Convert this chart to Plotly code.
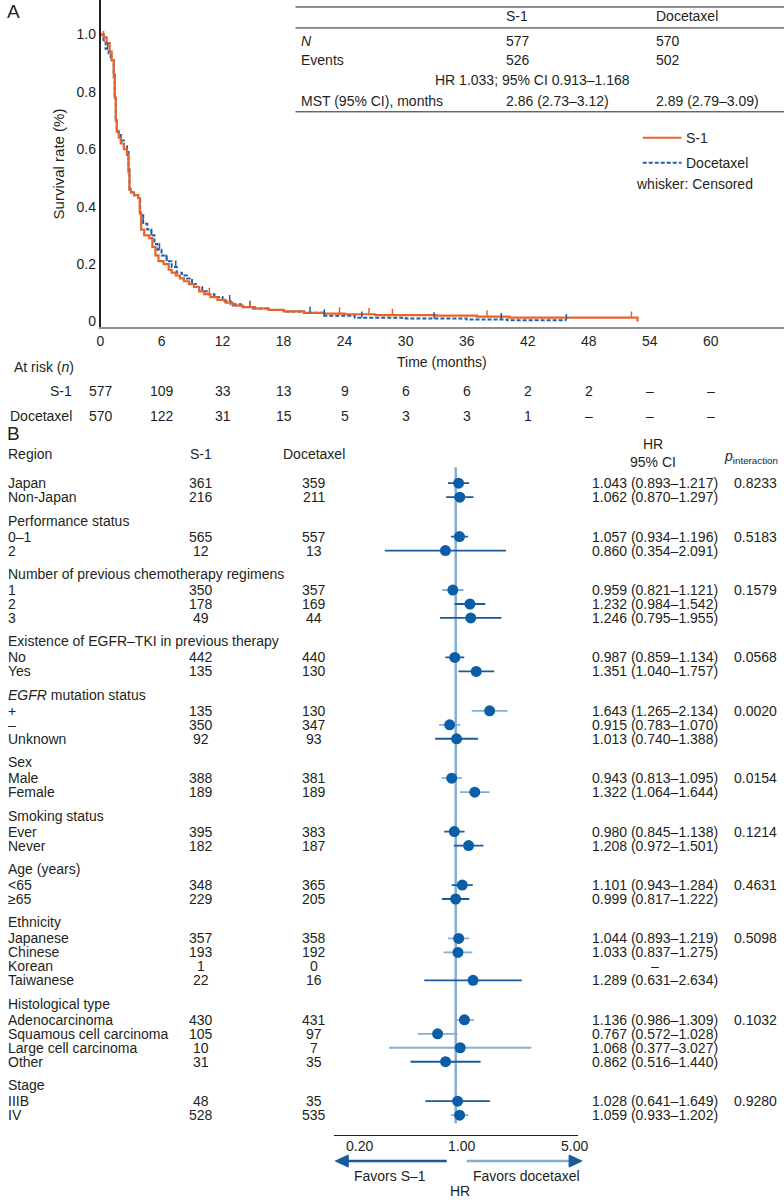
import numpy as np
import plotly.graph_objects as go

W, H = 784, 1201
FONT = "Liberation Sans, Arial, sans-serif"
INK = "#231f20"
ORANGE = "#e8632b"
BLUE = "#1f5fa8"
DOT = "#0a5ea8"
DARK = "#1a5a9a"
LIGHT = "#86aed0"


def X(px):
    return px / W


def Y(py):
    return 1 - py / H


# ---- panel A: Kaplan-Meier data ----
s1_t = [0, 0.3, 0.6, 0.9, 1.1, 1.3, 1.4, 1.5, 1.6, 1.8, 2.0, 2.3, 2.6, 2.75, 2.85,
        3.0, 3.3, 3.7, 3.85, 4.0, 4.3, 4.8, 5.1, 5.4, 5.7, 6.2, 6.7, 7.0, 7.4, 7.8,
        8.2, 8.7, 9.2, 9.7, 10.2, 10.8, 11.5, 12.3, 13.0, 14.0, 15.2, 16.5, 18.0,
        20.0, 22.0, 24.0, 27.0, 33.0, 37.0, 40.2, 52.8]
s1_s = [1.0, 0.99, 0.97, 0.94, 0.91, 0.85, 0.78, 0.70, 0.66, 0.64, 0.62, 0.60, 0.58,
        0.52, 0.46, 0.45, 0.44, 0.43, 0.38, 0.32, 0.30, 0.29, 0.26, 0.23, 0.21, 0.20,
        0.18, 0.17, 0.16, 0.15, 0.14, 0.13, 0.12, 0.105, 0.095, 0.085, 0.075, 0.065,
        0.055, 0.05, 0.045, 0.04, 0.035, 0.03, 0.027, 0.025, 0.022, 0.02, 0.017,
        0.013, 0.0]
s1_cens = [0.3, 10.7, 14.7, 23.5, 26.4, 28.7, 38.0, 52.2]

doc_t = [0, 0.3, 0.5, 0.8, 1.0, 1.3, 1.4, 1.5, 1.6, 1.8, 2.0, 2.3, 2.6, 2.75, 2.85,
         3.0, 3.3, 3.7, 3.9, 4.2, 4.6, 5.0, 5.3, 5.6, 6.0, 6.5, 7.0, 7.5, 8.0, 8.5,
         9.0, 9.5, 10.0, 10.6, 11.2, 12.0, 12.8, 13.8, 15.0, 16.5, 18.0, 20.0, 22.0,
         25.0, 30.0, 36.0, 40.0, 45.8]
doc_s = [1.0, 0.98, 0.95, 0.93, 0.91, 0.86, 0.78, 0.70, 0.67, 0.65, 0.63, 0.61, 0.59,
         0.53, 0.46, 0.45, 0.44, 0.43, 0.37, 0.34, 0.32, 0.30, 0.27, 0.25, 0.23, 0.21,
         0.19, 0.17, 0.16, 0.15, 0.13, 0.12, 0.105, 0.095, 0.085, 0.07, 0.06, 0.05,
         0.045, 0.04, 0.035, 0.03, 0.02, 0.013, 0.01, 0.007, 0.004, 0.004]
doc_cens = [0.7, 4.2, 5.0, 5.8, 6.5, 7.4, 12.7, 14.7, 20.6, 22.0, 25.7, 32.8, 39.4, 45.8]

risk_times = [0, 6, 12, 18, 24, 30, 36, 42, 48, 54, 60]
risk_s1 = ["577", "109", "33", "13", "9", "6", "6", "2", "2", "–", "–"]
risk_doc = ["570", "122", "31", "15", "5", "3", "3", "1", "–", "–", "–"]

# ---- panel B: forest plot data ----
group_names = ["Region", "Performance status", "Number of previous chemotherapy regimens",
               "Existence of EGFR–TKI in previous therapy", "<i>EGFR</i> mutation status",
               "Sex", "Smoking status", "Age (years)", "Ethnicity", "Histological type", "Stage"]
group_sizes = [2, 2, 3, 2, 3, 2, 2, 2, 4, 4, 2]
p_int = ["0.8233", "0.5183", "0.1579", "0.0568", "0.0020", "0.0154", "0.1214",
         "0.4631", "0.5098", "0.1032", "0.9280"]
sub_labels = ["Japan", "Non-Japan", "0–1", "2", "1", "2", "3", "No", "Yes", "+", "–",
              "Unknown", "Male", "Female", "Ever", "Never", "&lt;65", "≥65", "Japanese",
              "Chinese", "Korean", "Taiwanese", "Adenocarcinoma", "Squamous cell carcinoma",
              "Large cell carcinoma", "Other", "IIIB", "IV"]
n_s1 = [361, 216, 565, 12, 350, 178, 49, 442, 135, 135, 350, 92, 388, 189, 395, 182,
        348, 229, 357, 193, 1, 22, 430, 105, 10, 31, 48, 528]
n_doc = [359, 211, 557, 13, 357, 169, 44, 440, 130, 130, 347, 93, 381, 189, 383, 187,
         365, 205, 358, 192, 0, 16, 431, 97, 7, 35, 35, 535]
hr = [1.043, 1.062, 1.057, 0.860, 0.959, 1.232, 1.246, 0.987, 1.351, 1.643, 0.915,
      1.013, 0.943, 1.322, 0.980, 1.208, 1.101, 0.999, 1.044, 1.033, None, 1.289,
      1.136, 0.767, 1.068, 0.862, 1.028, 1.059]
hr_lo = [0.893, 0.870, 0.934, 0.354, 0.821, 0.984, 0.795, 0.859, 1.040, 1.265, 0.783,
         0.740, 0.813, 1.064, 0.845, 0.972, 0.943, 0.817, 0.893, 0.837, None, 0.631,
         0.986, 0.572, 0.377, 0.516, 0.641, 0.933]
hr_hi = [1.217, 1.297, 1.196, 2.091, 1.121, 1.542, 1.955, 1.134, 1.757, 2.134, 1.070,
         1.388, 1.095, 1.644, 1.138, 1.501, 1.284, 1.222, 1.219, 1.275, None, 2.634,
         1.309, 1.028, 3.027, 1.440, 1.649, 1.202]
# which CI whiskers are drawn in the pale blue
ci_pale = [0, 0, 0, 0, 1, 0, 0, 0, 0, 1, 1, 0, 1, 1, 0, 0, 0, 0, 1, 1, 0, 0, 1, 1, 1, 0, 0, 1]

fig = go.Figure()

# KM curves
fig.add_trace(go.Scatter(x=doc_t, y=doc_s, mode="lines", line_shape="hv",
                         line=dict(color=BLUE, width=2, dash="4px,2px"), xaxis="x", yaxis="y"))
fig.add_trace(go.Scatter(x=s1_t, y=s1_s, mode="lines", line_shape="hv",
                         line=dict(color=ORANGE, width=2.2), xaxis="x", yaxis="y"))


def whiskers(times, surv, cens):
    xs, ys = [], []
    for c in cens:
        v = surv[int(np.searchsorted(times, c, side="right")) - 1]
        xs += [c, c, None]
        ys += [v, v + 0.022, None]
    return xs, ys


for t, s, c, col in [(doc_t, doc_s, doc_cens, BLUE), (s1_t, s1_s, s1_cens, ORANGE)]:
    wx, wy = whiskers(t, s, c)
    fig.add_trace(go.Scatter(x=wx, y=wy, mode="lines", line=dict(color=col, width=1.5),
                             xaxis="x", yaxis="y"))

# forest row layout
head_y, row_y = [], []
for g, size in enumerate(group_sizes):
    if g == 0:
        hy, ry = 455, 484
    else:
        hy = row_y[-1] + 23.5
        ry = hy + 16
    head_y.append(hy)
    for k in range(size):
        row_y.append(ry + 14 * k)

fig.add_trace(go.Scatter(x=[1, 1], y=[468, 1125], mode="lines",
                         line=dict(color=LIGHT, width=2.5), xaxis="x2", yaxis="y2"))
for pale, col in [(0, DARK), (1, LIGHT)]:
    cx, cy = [], []
    for i in range(len(hr)):
        if hr[i] is None or ci_pale[i] != pale:
            continue
        cx += [hr_lo[i], hr_hi[i], None]
        cy += [row_y[i], row_y[i], None]
    fig.add_trace(go.Scatter(x=cx, y=cy, mode="lines", line=dict(color=col, width=1.8),
                             xaxis="x2", yaxis="y2"))
fig.add_trace(go.Scatter(x=[h for h in hr if h is not None],
                         y=[row_y[i] for i in range(len(hr)) if hr[i] is not None],
                         mode="markers", marker=dict(color=DOT, size=11),
                         xaxis="x2", yaxis="y2"))

ann = []


def txt(px, py, text, size=14, anchor="left", **kw):
    ann.append(dict(x=X(px), y=Y(py), xref="paper", yref="paper", text=text,
                    showarrow=False, xanchor=anchor, yanchor="middle",
                    font=dict(size=size, color=INK, family=FONT), **kw))


# panel letters
txt(1, 12, "A", size=19)
txt(1, 434, "B", size=19)

# table in panel A
txt(503, 16, "S-1")
txt(653, 16, "Docetaxel")
txt(297, 41, "<i>N</i>")
txt(503, 41, "577")
txt(653, 41, "570")
txt(297, 60, "Events")
txt(503, 60, "526")
txt(653, 60, "502")
txt(531, 80, "HR 1.033; 95% CI 0.913–1.168", anchor="center")
txt(297, 101, "MST (95% CI), months")
txt(503, 101, "2.86 (2.73–3.12)")
txt(653, 101, "2.89 (2.79–3.09)")

# legend
txt(683, 138, "S-1")
txt(683, 163, "Docetaxel")
txt(755, 184, "whisker: Censored", anchor="right")

# axis titles
txt(55, 164, "Survival rate (%)", size=15, anchor="center", textangle=-90)
txt(440, 363, "Time (months)", anchor="center")

# at risk table
txt(8, 368, "At risk (<i>n</i>)")
txt(70, 392, "S-1", anchor="right")
txt(70, 417, "Docetaxel", anchor="right")
for t, a, b in zip(risk_times, risk_s1, risk_doc):
    for py, v in [(392, a), (417, b)]:
        ann.append(dict(x=t, y=Y(py), xref="x", yref="paper", text=v, showarrow=False,
                        xanchor="center", yanchor="middle",
                        font=dict(size=14, color=INK, family=FONT)))

# forest headers
txt(198, 455, "S-1", anchor="center")
txt(312, 455, "Docetaxel", anchor="center")
txt(652, 445, "HR", anchor="center")
txt(652, 463, "95% CI", anchor="center")
txt(722, 458, "<i>p</i><sub>interaction</sub>")

i = 0
for g, size in enumerate(group_sizes):
    txt(2, head_y[g], group_names[g])
    txt(755, row_y[i], p_int[g], anchor="center")
    for k in range(size):
        y = row_y[i]
        txt(2, y, sub_labels[i])
        txt(198, y, str(n_s1[i]), anchor="center")
        txt(312, y, str(n_doc[i]), anchor="center")
        if hr[i] is None:
            txt(654, y, "–", anchor="center")
        else:
            txt(654, y, f"{hr[i]:.3f} ({hr_lo[i]:.3f}–{hr_hi[i]:.3f})", anchor="center")
        i += 1

# forest axis labels
for v, lab, sh in [(0.2, "0.20", 14), (1.0, "1.00", 6), (5.0, "5.00", 9)]:
    ann.append(dict(x=np.log10(v), y=Y(1148), xref="x2", yref="paper", text=lab,
                    showarrow=False, xanchor="center", yanchor="middle", xshift=sh,
                    font=dict(size=14, color=INK, family=FONT)))
txt(388, 1178, "Favors S–1", anchor="center")
txt(525, 1178, "Favors docetaxel", anchor="center")
txt(458, 1193, "HR", anchor="center")


def tri(tip, base, py, half):
    return (f"M {X(tip)},{Y(py)} L {X(base)},{Y(py - half)} "
            f"L {X(base)},{Y(py + half)} Z")


shapes = [
    dict(type="line", xref="paper", yref="paper", x0=X(293), x1=1, y0=Y(7), y1=Y(7),
         line=dict(color=INK, width=1)),
    dict(type="line", xref="paper", yref="paper", x0=X(293), x1=1, y0=Y(28), y1=Y(28),
         line=dict(color=INK, width=1)),
    dict(type="line", xref="paper", yref="paper", x0=X(293), x1=1, y0=Y(112), y1=Y(112),
         line=dict(color=INK, width=1)),
    dict(type="line", xref="paper", yref="paper", x0=X(642), x1=X(681), y0=Y(138), y1=Y(138),
         line=dict(color=ORANGE, width=2)),
    dict(type="line", xref="paper", yref="paper", x0=X(642), x1=X(681), y0=Y(163), y1=Y(163),
         line=dict(color=BLUE, width=2, dash="4px,2px")),
    # arrows under the forest axis
    dict(type="line", xref="paper", yref="paper", x0=X(344), x1=X(445), y0=Y(1163), y1=Y(1163),
         line=dict(color=DARK, width=2.5)),
    dict(type="path", xref="paper", yref="paper", path=tri(333, 346, 1163, 6),
         fillcolor=DARK, line=dict(color=DARK, width=1)),
    dict(type="line", xref="paper", yref="paper", x0=X(465), x1=X(570), y0=Y(1163), y1=Y(1163),
         line=dict(color=LIGHT, width=2.5)),
    dict(type="path", xref="paper", yref="paper", path=tri(581, 568, 1163, 6),
         fillcolor=DARK, line=dict(color=DARK, width=1)),
]

fig.update_layout(
    width=W, height=H, margin=dict(l=0, r=0, t=0, b=0),
    paper_bgcolor="white", plot_bgcolor="white", showlegend=False,
    font=dict(family=FONT, size=14, color=INK),
    xaxis=dict(domain=[X(97), 1], range=[0, 67.2], tickvals=risk_times,
               showline=True, linecolor="#8c8c8c", linewidth=2, showgrid=False,
               zeroline=False, ticks="", tickfont=dict(size=14), anchor="y"),
    yaxis=dict(domain=[Y(328), 1], range=[-0.021, 1.12],
               tickvals=[0, 0.2, 0.4, 0.6, 0.8, 1.0],
               ticktext=["0", "0.2", "0.4", "0.6", "0.8", "1.0"],
               showline=True, linecolor=INK, linewidth=1.5, showgrid=False,
               zeroline=False, ticks="", tickfont=dict(size=14), anchor="x"),
    xaxis2=dict(type="log", domain=[X(332), X(577)],
                range=[np.log10(0.169), np.log10(6.0)], showline=True, linecolor=INK,
                linewidth=1, showticklabels=False, showgrid=False, zeroline=False,
                ticks="", anchor="y2"),
    yaxis2=dict(domain=[Y(1137), Y(440)], range=[1137, 440], visible=False, anchor="x2"),
    annotations=ann, shapes=shapes,
)

# page body has an 8px margin by default; drop it so the figure fills the window
fig.write_html("out.html", config={"displayModeBar": False},
               post_script="document.body.style.margin='0px';")
